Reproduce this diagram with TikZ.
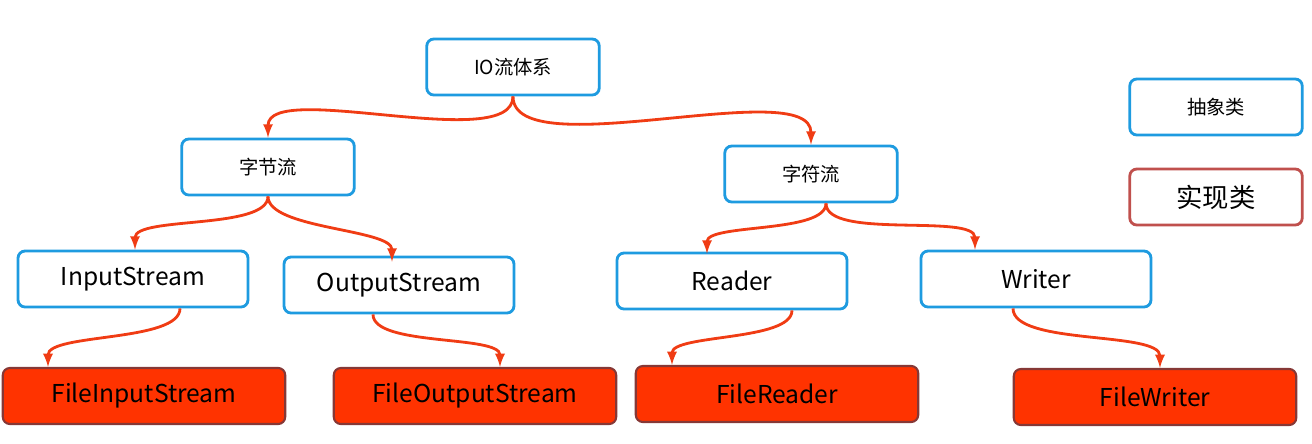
\documentclass[tikz,border=0pt]{standalone}
\usepackage{fontspec}
\setmainfont{Noto Sans CJK SC}
\usetikzlibrary{calc}
\definecolor{boxblue}{HTML}{1E9BE0}
\definecolor{implred}{HTML}{FF3300}
\definecolor{implline}{HTML}{C0504D}
\definecolor{arrowred}{HTML}{F03C14}
\tikzset{
  absbox/.style={draw=boxblue, line width=1.6pt, rounded corners=4pt, fill=white,
    minimum width=3.45cm, minimum height=1.12cm, font=\fontsize{11}{13}\selectfont},
  absbig/.style={absbox, minimum width=4.6cm, font=\fontsize{14}{16}\selectfont},
  implbox/.style={draw=implline!70!black, line width=1.2pt, rounded corners=4pt, fill=implred,
    minimum width=5.65cm, minimum height=1.12cm, font=\fontsize{14}{16}\selectfont},
  link/.style={draw=arrowred, line width=1.6pt, -latex}
}
\begin{document}
\begin{tikzpicture}[x=0.02cm, y=-0.02cm]
  \useasboundingbox (0,0) rectangle (1312,443);
  % level 1
  \node[absbox] (io) at (513,67) {IO流体系};
  % level 2
  \node[absbox] (zj) at (268,167) {字节流};
  \node[absbox] (zf) at (811,174) {字符流};
  % legend
  \node[absbox] (abs) at (1216,107) {抽象类};
  \node[absbox, draw=implline, font=\fontsize{15}{17}\selectfont] (impl) at (1216,197) {实现类};
  % level 3
  \node[absbig] (inp) at (133,279) {InputStream};
  \node[absbig] (out) at (399,285) {OutputStream};
  \node[absbig] (rd) at (732,281) {Reader};
  \node[absbig] (wr) at (1036,279) {Writer};
  % level 4
  \node[implbox] (finp) at (144,396) {FileInputStream};
  \node[implbox] (fout) at (475,396) {FileOutputStream};
  \node[implbox] (frd) at (777,394) {FileReader};
  \node[implbox] (fwr) at (1155,397) {FileWriter};
  % connectors
  \draw[link] (io.south) to[out=-90, in=90, looseness=0.6] (zj.north);
  \draw[link] (io.south) to[out=-90, in=90, looseness=0.6] (zf.north);
  \draw[link] (zj.south) to[out=-90, in=90, looseness=0.6] ($(inp.north)+(2,0)$);
  \draw[link] (zj.south) to[out=-90, in=90, looseness=0.6] ($(out.north)+(-7,6)$);
  \draw[link] ($(zf.south)+(15,0)$) to[out=-90, in=90, looseness=0.6] ($(rd.north)+(-25,2)$);
  \draw[link] ($(zf.south)+(15,0)$) to[out=-90, in=90, looseness=0.6] ($(wr.north)+(-61,0)$);
  \draw[link] ($(inp.south)+(47,0)$) to[out=-90, in=90, looseness=0.6] ($(finp.north)+(-96,0)$);
  \draw[link] ($(out.south)+(-26,0)$) to[out=-90, in=90, looseness=0.6] ($(fout.north)+(25,0)$);
  \draw[link] ($(rd.south)+(60,0)$) to[out=-90, in=90, looseness=0.6] ($(frd.north)+(-105,0)$);
  \draw[link] ($(wr.south)+(-23,0)$) to[out=-90, in=90, looseness=0.6] ($(fwr.north)+(5,0)$);
\end{tikzpicture}
\end{document}
